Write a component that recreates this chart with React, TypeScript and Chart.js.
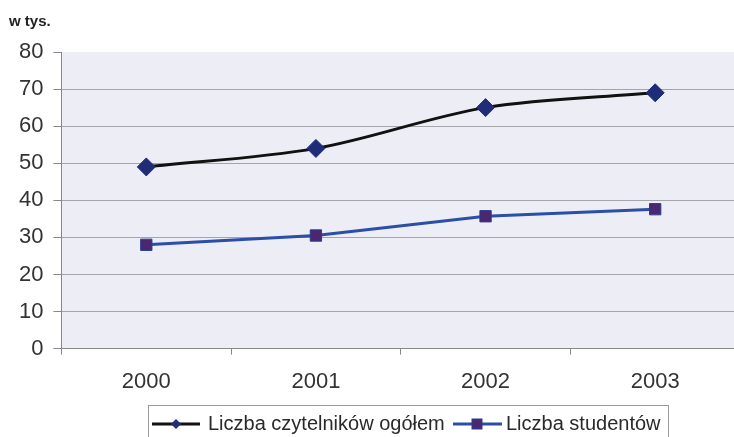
import React, { useEffect, useRef } from "react";
import { Chart, registerables } from "chart.js";

Chart.register(...registerables);

const years = ["2000", "2001", "2002", "2003"];
const readersTotal = [49, 54, 65, 69];
const students = [28, 30.5, 35.7, 37.6];
const seriesNames = ["Liczba czytelników ogółem", "Liczba studentów"];
const unitLabel = "w tys.";

const FONT = "'Liberation Sans', Arial, sans-serif";
const CANVAS_W = 750;

const bgPlugin = {
  id: "plotBg",
  beforeDraw(chart: any) {
    const { ctx, chartArea: a } = chart;
    ctx.save();
    ctx.fillStyle = "#ededf6";
    ctx.fillRect(a.left, a.top, a.right - a.left, a.bottom - a.top);
    ctx.restore();
  },
};

const legendPlugin = {
  id: "customLegend",
  afterDraw(chart: any) {
    const { ctx } = chart;
    ctx.save();
    const boxL = 148;
    const boxT = 405;
    const boxR = 668;
    const boxB = 442;
    ctx.fillStyle = "#ffffff";
    ctx.fillRect(boxL, boxT, boxR - boxL, boxB - boxT);
    ctx.strokeStyle = "#9a9a9a";
    ctx.lineWidth = 1;
    ctx.strokeRect(boxL + 0.5, boxT + 0.5, boxR - boxL, boxB - boxT);
    const cy = 424;
    ctx.font = `20px ${FONT}`;
    ctx.textBaseline = "middle";
    // series 1
    ctx.strokeStyle = "#111111";
    ctx.lineWidth = 3;
    ctx.beginPath();
    ctx.moveTo(152, cy);
    ctx.lineTo(200, cy);
    ctx.stroke();
    ctx.fillStyle = "#1f2c78";
    ctx.beginPath();
    const mx = 176;
    ctx.moveTo(mx, cy - 5);
    ctx.lineTo(mx + 5, cy);
    ctx.lineTo(mx, cy + 5);
    ctx.lineTo(mx - 5, cy);
    ctx.closePath();
    ctx.fill();
    ctx.fillStyle = "#2a2a2a";
    ctx.fillText(seriesNames[0], 208, cy);
    // series 2
    ctx.strokeStyle = "#2b4fa6";
    ctx.lineWidth = 3;
    ctx.beginPath();
    ctx.moveTo(453, cy);
    ctx.lineTo(502, cy);
    ctx.stroke();
    ctx.fillStyle = "#4a2770";
    ctx.strokeStyle = "#2b3f8a";
    ctx.lineWidth = 1;
    const sx = 477;
    ctx.fillRect(sx - 5, cy - 5, 10, 10);
    ctx.strokeRect(sx - 5, cy - 5, 10, 10);
    ctx.fillStyle = "#2a2a2a";
    ctx.fillText(seriesNames[1], 506, cy);
    ctx.restore();
  },
};

export default function App() {
  const ref = useRef<HTMLCanvasElement>(null);
  useEffect(() => {
    const chart = new Chart(ref.current!, {
      type: "line",
      data: {
        labels: years,
        datasets: [
          {
            label: seriesNames[0],
            data: readersTotal,
            borderColor: "#111111",
            borderWidth: 3,
            cubicInterpolationMode: "monotone",
            pointStyle: "rectRot",
            pointRadius: 9,
            pointBackgroundColor: "#1f2c78",
            pointBorderColor: "#1f2c78",
            pointBorderWidth: 1,
          },
          {
            label: seriesNames[1],
            data: students,
            borderColor: "#2b4fa6",
            borderWidth: 3,
            tension: 0,
            pointStyle: "rect",
            pointRadius: 8,
            pointBackgroundColor: "#4a2770",
            pointBorderColor: "#2b3f8a",
            pointBorderWidth: 1,
          },
        ],
      },
      options: {
        responsive: false,
        animation: false,
        layout: { padding: { top: 0, right: 8, left: 9, bottom: 28 } },
        plugins: {
          legend: { display: false },
          tooltip: { enabled: false },
          title: {
            display: true,
            text: unitLabel,
            align: "start",
            color: "#222",
            font: { family: FONT, size: 15, weight: "bold" },
            padding: { top: 13, bottom: 21 },
          },
        },
        scales: {
          x: {
            offset: true,
            grid: {
              display: true,
              drawOnChartArea: false,
              drawTicks: true,
              tickLength: 6,
              color: "#888",
              offset: true,
            },
            border: { display: true, color: "#888", width: 1 },
            ticks: {
              color: "#333",
              font: { family: FONT, size: 22 },
              padding: 14,
            },
          },
          y: {
            min: 0,
            max: 80,
            ticks: {
              stepSize: 10,
              color: "#333",
              font: { family: FONT, size: 22 },
              padding: 10,
            },
            grid: {
              color: (c: any) => (c.tick && c.tick.value === 80 ? "rgba(0,0,0,0)" : "#a4a4ac"),
              tickColor: "#888",
              lineWidth: 1,
              tickLength: 8,
              drawTicks: true,
            },
            border: { display: true, color: "#888", width: 1 },
          },
        },
      },
      plugins: [bgPlugin, legendPlugin],
    });
    return () => chart.destroy();
  }, []);
  return (
    <div style={{ position: "fixed", left: 0, top: 0, width: 734, height: 437, overflow: "hidden", background: "#fff" }}>
      <canvas ref={ref} width={CANVAS_W} height={437} style={{ width: CANVAS_W, height: 437, display: "block" }} />
    </div>
  );
}
